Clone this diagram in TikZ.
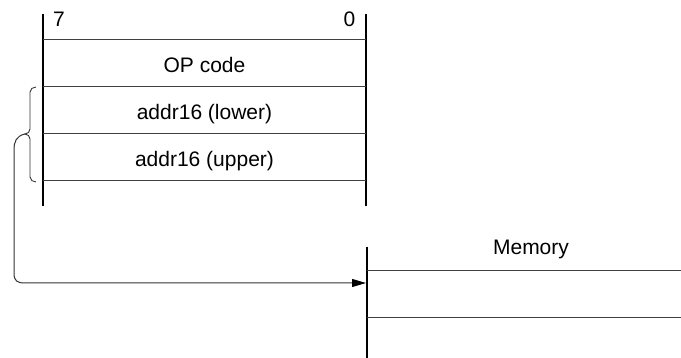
\documentclass[tikz,border=0pt]{standalone}
\usepackage{fontspec}
\setmainfont{Liberation Sans}
\usetikzlibrary{arrows.meta}
\begin{document}
\begin{tikzpicture}[x=1pt,y=-1pt,
  thick line/.style={line width=2.8pt,black},
  row line/.style={line width=1pt,black!75},
  lbl/.style={anchor=base,inner sep=0pt,font=\fontsize{21}{24}\selectfont},
  brace line/.style={line width=0.9pt,black!80},
  conn/.style={line width=1pt,black!80,-{Triangle[length=14pt,width=8pt,color=black]}}]
\useasboundingbox (0,0) rectangle (681,358);
% instruction box
\coordinate (lt) at (43,14);
\coordinate (lb) at (43,206);
\coordinate (rt) at (366,14);
\coordinate (rb) at (366,206);
\draw[thick line] (lt) -- (lb);
\draw[thick line] (rt) -- (rb);
\foreach \y in {40,87,134,181}{
  \draw[row line] (43,\y) -- (366,\y);
}
\node[lbl] (b7) at (59,27) {7};
\node[lbl] (b0) at (349.5,27) {0};
\node[lbl] (op) at (204.5,73) {OP code};
\node[lbl] (lo) at (204.5,120) {addr16 (lower)};
\node[lbl] (up) at (204.5,167) {addr16 (upper)};
% brace
\coordinate (btop) at (36,87);
\coordinate (bmid) at (25,134);
\coordinate (bbot) at (36,182);
\draw[brace line] (btop) to[out=180,in=90] (30,92) -- (30,129)
  to[out=-90,in=0] (bmid) to[out=0,in=90] (30,139) -- (30,177)
  to[out=-90,in=180] (bbot);
% memory
\coordinate (mt) at (367,247);
\coordinate (mb) at (367,358);
\coordinate (mp) at (366,283);
\draw[thick line] (mt) -- (mb);
\draw[row line] (367,271) -- (681,271);
\draw[row line] (367,318) -- (681,318);
\node[lbl] (mem) at (531,255) {Memory};
% connector
\draw[conn] (bmid) .. controls (16,136) and (14,142) .. (14,150)
  -- (14,273) .. controls (14,281) and (17,283) .. (25,283) -- (mp);
\end{tikzpicture}
\end{document}
